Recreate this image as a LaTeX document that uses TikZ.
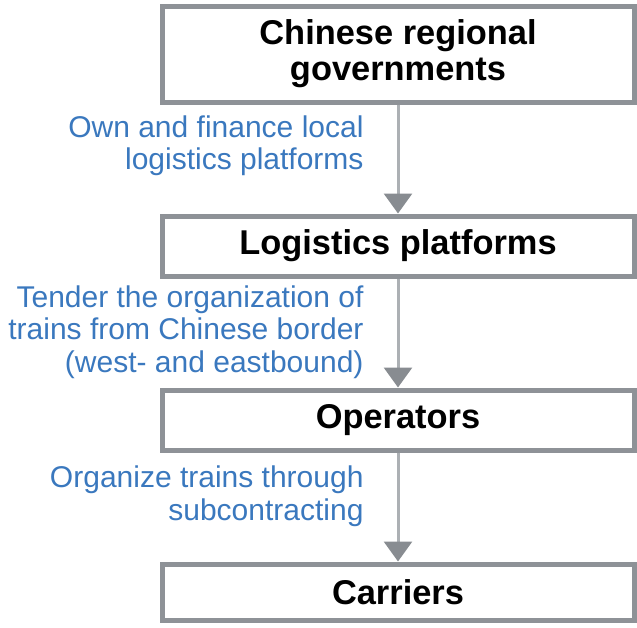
\documentclass[tikz,border=0pt]{standalone}
\usepackage{fontspec}
\setmainfont{Liberation Sans}
\usetikzlibrary{positioning,arrows.meta}
\definecolor{boxgray}{RGB}{142,146,151}
\definecolor{linegray}{RGB}{172,176,180}
\definecolor{tipgray}{RGB}{136,140,145}
\definecolor{lblblue}{RGB}{58,120,190}

\begin{document}
\begin{tikzpicture}[-{Triangle[width=28pt,length=20pt,color=tipgray]},auto=right,node distance=109pt,
    level node/.style={rectangle,draw=boxgray,line width=5pt,minimum width=472pt,minimum height=60pt,
      align=center,font=\fontsize{34.4}{36}\selectfont\bfseries},
    note/.style={align=right,inner sep=0pt,xshift=-33pt,text=lblblue,font=\fontsize{30}{32.5}\selectfont}]

\useasboundingbox (0,0) rectangle (637pt,-627pt);

\node[level node, minimum height=96pt] (gov) at (398pt,-54pt) {Chinese regional\\governments};
\node[level node] (plat) [below=of gov] {Logistics platforms};
\node[level node] (oper) [below=of plat] {Operators};
\node[level node, minimum height=56pt] (carr) [below=of oper] {Carriers};

\path[line width=3pt, linegray]
(gov) edge node[note, pos=.38] {Own and finance local\\logistics platforms} (plat)
(plat) edge node[note, pos=.49] {Tender the organization of\\trains from Chinese border\\(west- and eastbound)} (oper)
(oper) edge node[note, pos=.40] {Organize trains through\\subcontracting} (carr)
;

\end{tikzpicture}
\end{document}
